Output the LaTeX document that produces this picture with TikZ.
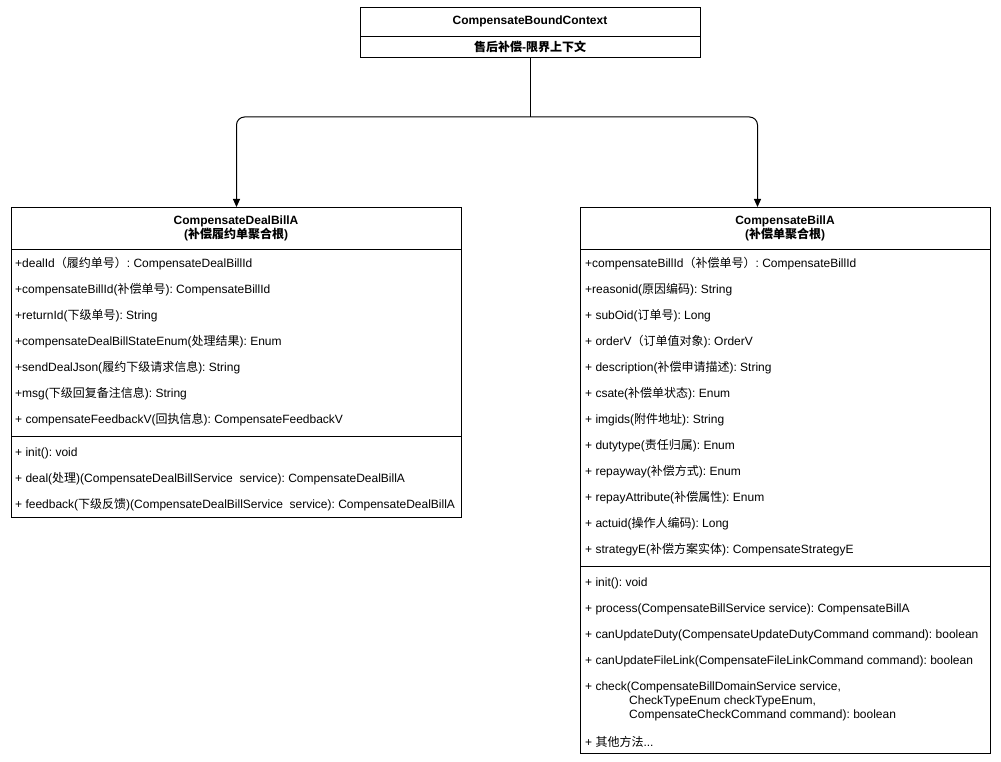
\documentclass[tikz,border=0pt]{standalone}
\usepackage{fontspec}
\setmainfont{Liberation Sans}
\newfontfamily\cjkfont{Noto Sans CJK SC}
\usetikzlibrary{arrows.meta}
\frenchspacing
\newcommand\zh[1]{{\cjkfont #1}}
\tikzset{
  umlbox/.style={draw=black, line width=1pt, fill=white, rectangle, inner sep=0pt, anchor=north west},
  row/.style={anchor=west, inner sep=0pt, yshift=-1pt, font=\fontsize{12}{14}\selectfont},
  title/.style={align=center, inner sep=0pt, font=\fontsize{12}{14}\selectfont\bfseries},
  divider/.style={line width=1pt},
  link/.style={line width=1pt, rounded corners=8pt, -{Triangle[width=7pt,length=8pt]}}
}
\begin{document}
\begin{tikzpicture}[x=1pt,y=-1pt]
\useasboundingbox (0,0) rectangle (1001,762);

% bounded context
\node[umlbox, minimum width=340pt, minimum height=50pt] (ctx) at (360,7) {};
\draw[divider] (360,37) -- (700,37);
\node[title] (ctxname) at (530,21) {CompensateBoundContext};
\node[title] (ctxzh) at (530,47) {\zh{售后补偿}-\zh{限界上下文}};

% aggregate root: deal bill
\node[umlbox, minimum width=450pt, minimum height=310pt] (deal) at (11,207) {};
\draw[divider] (11,249) -- (461,249);
\draw[divider] (11,436) -- (461,436);
\node[title] (dealname) at (236,228) {CompensateDealBillA\\(\zh{补偿履约单聚合根})};
\node[row] (d1) at (15,263) {+dealId\zh{（履约单号）}: CompensateDealBillId};
\node[row] (d2) at (15,289) {+compensateBillId(\zh{补偿单号}): CompensateBillId};
\node[row] (d3) at (15,315) {+returnId(\zh{下级单号}): String};
\node[row] (d4) at (15,341) {+compensateDealBillStateEnum(\zh{处理结果}): Enum};
\node[row] (d5) at (15,367) {+sendDealJson(\zh{履约下级请求信息}): String};
\node[row] (d6) at (15,393) {+msg(\zh{下级回复备注信息}): String};
\node[row] (d7) at (15,419) {+ compensateFeedbackV(\zh{回执信息}): CompensateFeedbackV};
\node[row] (dm1) at (15,452) {+ init(): void};
\node[row] (dm2) at (15,478) {+ deal(\zh{处理})(CompensateDealBillService\ \ service): CompensateDealBillA};
\node[row] (dm3) at (15,504) {+ feedback(\zh{下级反馈})(CompensateDealBillService\ \ service): CompensateDealBillA};

% aggregate root: compensate bill
\node[umlbox, minimum width=410pt, minimum height=546pt] (bill) at (580,207) {};
\draw[divider] (580,249) -- (990,249);
\draw[divider] (580,566) -- (990,566);
\node[title] (billname) at (785,228) {CompensateBillA\\(\zh{补偿单聚合根})};
\node[row] (b1) at (585,263) {+compensateBillId\zh{（补偿单号）}: CompensateBillId};
\node[row] (b2) at (585,289) {+reasonid(\zh{原因编码}): String};
\node[row] (b3) at (585,315) {+ subOid(\zh{订单号}): Long};
\node[row] (b4) at (585,341) {+ orderV\zh{（订单值对象}): OrderV};
\node[row] (b5) at (585,367) {+ description(\zh{补偿申请描述}): String};
\node[row] (b6) at (585,393) {+ csate(\zh{补偿单状态}): Enum};
\node[row] (b7) at (585,419) {+ imgids(\zh{附件地址}): String};
\node[row] (b8) at (585,445) {+ dutytype(\zh{责任归属}): Enum};
\node[row] (b9) at (585,471) {+ repayway(\zh{补偿方式}): Enum};
\node[row] (b10) at (585,497) {+ repayAttribute(\zh{补偿属性}): Enum};
\node[row] (b11) at (585,523) {+ actuid(\zh{操作人编码}): Long};
\node[row] (b12) at (585,549) {+ strategyE(\zh{补偿方案实体}): CompensateStrategyE};
\node[row] (bm1) at (585,582) {+ init(): void};
\node[row] (bm2) at (585,608) {+ process(CompensateBillService service): CompensateBillA};
\node[row] (bm3) at (585,634) {+ canUpdateDuty(CompensateUpdateDutyCommand command): boolean};
\node[row] (bm4) at (585,660) {+ canUpdateFileLink(CompensateFileLinkCommand command): boolean};
\node[row] (bm5) at (585,686) {+ check(CompensateBillDomainService service,};
\node[row] (bm5b) at (629,700) {CheckTypeEnum checkTypeEnum,};
\node[row] (bm5c) at (629,714) {CompensateCheckCommand command): boolean};
\node[row] (bm6) at (585,741) {+ \zh{其他方法}...};

% connectors
\coordinate (split) at (ctx.south |- 0,117);
\coordinate (billin) at ([xshift=-28pt]bill.north);
\draw[line width=1pt] (ctx.south) -- (split);
\draw[link] (split) -| (deal.north);
\draw[link] (split) -| (billin);
\end{tikzpicture}
\end{document}
